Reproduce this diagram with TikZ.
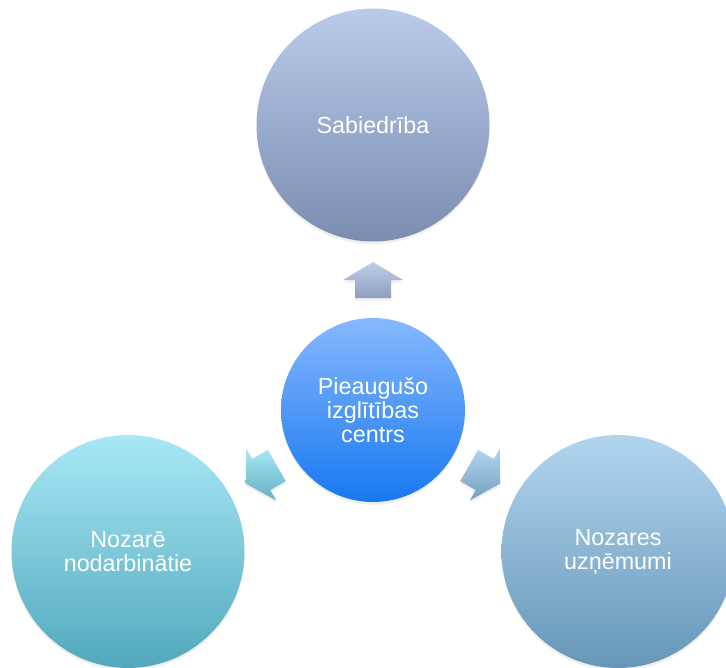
\documentclass[tikz,border=0pt]{standalone}
\usepackage{fontspec}
\setmainfont{Liberation Sans}
\usetikzlibrary{calc,shadows}

\definecolor{topA}{HTML}{BACBEA}
\definecolor{topB}{HTML}{7A8DB0}
\definecolor{midA}{HTML}{86B8FF}
\definecolor{midB}{HTML}{1878F0}
\definecolor{leftA}{HTML}{A8E8F7}
\definecolor{leftB}{HTML}{52A8BC}
\definecolor{rightA}{HTML}{B2D5EF}
\definecolor{rightB}{HTML}{6696B7}

\tikzset{
    bubble/.style={circle, inner sep=0pt, text=white, align=center,
        font=\fontsize{17.5}{18}\selectfont, minimum size=174.75pt,
        drop shadow={opacity=0.12, shadow xshift=0pt, shadow yshift=-2pt}},
    blockarrow/.style={drop shadow={opacity=0.12, shadow xshift=0pt, shadow yshift=-2pt}}
}

\begin{document}
\begin{tikzpicture}[x=0.75pt, y=0.75pt]
    \useasboundingbox (0,0) rectangle (726,668);

    \node[bubble, top color=topA, bottom color=topB] (top) at (373,543) {Sabiedrība};
    \node[bubble, top color=leftA, bottom color=leftB] (left) at (128,116.5) {Nozarē\\nodarbinātie};
    \node[bubble, top color=rightA, bottom color=rightB] (right) at (618,116.5) {Nozares\\uzņēmumi};
    \node[bubble, minimum size=138pt, top color=midA, bottom color=midB] (centre) at (373,258) {Pieaugušo\\izglītības\\centrs};

    % arrows from the centre outwards
    \coordinate (uparrow) at ($(centre)!0.456!(top)$);
    \coordinate (leftarrow) at ($(centre)!0.456!(left)$);
    \coordinate (rightarrow) at ($(centre)!0.456!(right)$);

    \path[blockarrow, top color=topA!95!white, bottom color=topB!85!white, shift={(uparrow)}]
        (0,18) -- (30,0) -- (18,0) -- (18,-18) -- (-18,-18) -- (-18,0) -- (-30,0) -- cycle;
    \path[blockarrow, top color=leftA, bottom color=leftB!90!white, shift={(leftarrow)}, rotate=120]
        (0,18) -- (30,0) -- (18,0) -- (18,-18) -- (-18,-18) -- (-18,0) -- (-30,0) -- cycle;
    \path[blockarrow, top color=rightA, bottom color=rightB!90!white, shift={(rightarrow)}, rotate=-120]
        (0,18) -- (30,0) -- (18,0) -- (18,-18) -- (-18,-18) -- (-18,0) -- (-30,0) -- cycle;

\end{tikzpicture}
\end{document}
